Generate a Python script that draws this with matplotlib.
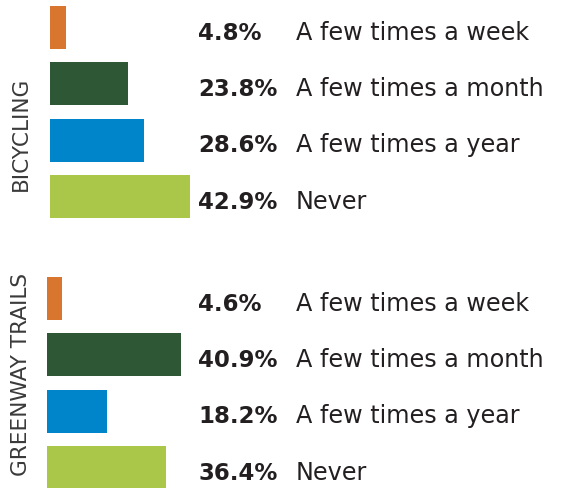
import matplotlib
matplotlib.use("Agg")
import matplotlib.pyplot as plt
import matplotlib.transforms as mtransforms

# Survey responses: how often people ride bicycles / use greenway trails
frequencies = ["A few times a week", "A few times a month", "A few times a year", "Never"]
bicycling = [4.8, 23.8, 28.6, 42.9]
greenway = [4.6, 40.9, 18.2, 36.4]
group_titles = ["BICYCLING", "GREENWAY TRAILS"]
colors = ["#D87630", "#2E5736", "#0084CA", "#AAC74A"]
text_color = "#231F20"

W, H = 571, 489
fig = plt.figure(figsize=(W / 100, H / 100), dpi=100)
fig.patch.set_facecolor("white")

px_per_pct = 3.27
row_px = 56.3
pct_size = 16.5
desc_size = 17.2


def make_axes(left_px, top_px):
    width_px = 100 * px_per_pct
    height_px = 4 * row_px
    return fig.add_axes([left_px / W, 1 - (top_px + height_px) / H,
                         width_px / W, height_px / H])


groups = [
    (bicycling, make_axes(50, 0.35), 134),
    (greenway, make_axes(47, 271.35), 374),
]

renderer = fig.canvas.get_renderer()

for (values, ax, title_y), title in zip(groups, group_titles):
    ypos = range(len(values))
    ax.barh(ypos, values, height=0.764, color=colors)
    ax.set_xlim(0, 100)
    ax.set_ylim(3.5, -0.5)
    ax.axis("off")
    tr = mtransforms.blended_transform_factory(fig.transFigure, ax.transData)
    for y, v, lab in zip(ypos, values, frequencies):
        pct = ax.text(198 / W, y + 0.2, f"{v:.1f}%", transform=tr, ha="left",
                      va="baseline", fontsize=pct_size, fontweight="bold",
                      family="DejaVu Sans", color=text_color)
        # the description follows the percentage, aligned on a common tab stop
        pct_end = pct.get_window_extent(renderer).x1
        lab_x = max(296, pct_end + 18)
        ax.text(lab_x / W, y + 0.2, lab, transform=tr, ha="left",
                va="baseline", fontsize=desc_size, family="DejaVu Sans",
                color=text_color)
    fig.text(21 / W, 1 - title_y / H, title, rotation=90, ha="center",
             va="center", fontsize=15.6, family="DejaVu Sans",
             color="#3a3a3a")

fig.savefig("out.png", dpi=100)
